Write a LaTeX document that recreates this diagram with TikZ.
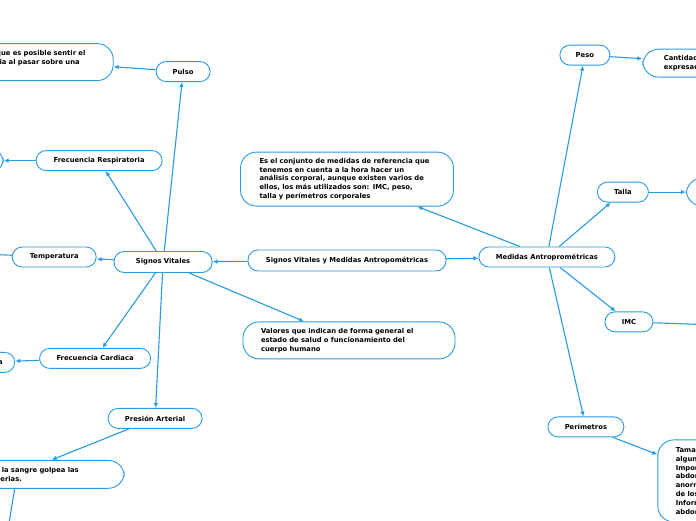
\documentclass[tikz,border=0pt]{standalone}
\usepackage{fontspec}
\setsansfont{DejaVu Sans}
\usepackage{tikz}
\usetikzlibrary{arrows.meta,positioning}
\definecolor{mapblue}{HTML}{2A9AE2}

\begin{document}
\begin{tikzpicture}[
  x=1pt, y=1pt,
  font=\fontsize{6.8}{8.8}\selectfont\sffamily\bfseries,
  topic/.style={draw=mapblue, fill=white, line width=0.9pt, rounded corners=10pt, minimum height=20pt, inner sep=0pt, align=center},
  note/.style={draw=mapblue, fill=white, line width=0.9pt, rounded corners=16pt, align=left, inner ysep=0pt, inner xsep=18pt},
  arr/.style={-{Latex[length=5pt,width=4.5pt]}, draw=mapblue, line width=1.1pt},
]
\useasboundingbox (0,0) rectangle (696,-520);
\fill[white] (0,0) rectangle (696,-520);
\clip (0,0) rectangle (696,-520);

% main topics
\node[topic, minimum width=198pt, minimum height=21pt] (central) at (347,-260.5) {Signos Vitales y Medidas Antropométricas};
\node[topic, minimum width=98pt, minimum height=21pt, left=35pt of central, yshift=-1.5pt] (sv) {Signos Vitales};
\node[topic, minimum width=136pt, right=32pt of central, yshift=3.5pt] (med) {Medidas Antroprométricas};
\node[note, text width=176pt, minimum height=37pt, below=50pt of central, xshift=2pt] (valdesc) {Valores que indican de forma general el\\estado de salud o funcionamiento del\\cuerpo humano};
\node[note, text width=175pt, inner xsep=19pt, minimum height=54pt, above=43pt of central] (medesc) {Es el conjunto de medidas de referencia que\\tenemos en cuenta a la hora hacer un\\análisis corporal, aunque existen varios de\\ellos, los más utilizados son: IMC, peso,\\talla y perímetros corporales};

% signos vitales
\node[topic, minimum width=54pt, above=169pt of sv, xshift=20pt] (pulso) {Pulso};
\node[topic, minimum width=126pt, above=80pt of sv, xshift=-64pt] (resp) {Frecuencia Respiratoria};
\node[topic, minimum width=84pt, left=17pt of sv, yshift=5pt] (temp) {Temperatura};
\node[topic, minimum width=111pt, below=75pt of sv, xshift=-68pt] (card) {Frecuencia Cardiaca};
\node[topic, minimum width=94pt, below=135pt of sv, xshift=-8pt] (pres) {Presión Arterial};

\node[note, text width=99pt, minimum height=37pt, left=42pt of pulso, yshift=9.5pt] (pulsodesc) {que es posible sentir el\\ria al pasar sobre una\\\mbox{}};
\node[note, minimum width=40pt, minimum height=27pt, left=32pt of resp] (respdesc) {};
\coordinate[left=30pt of temp, yshift=3pt] (tempend);
\node[note, text width=50pt, align=right, inner xsep=12pt, minimum height=20pt, rounded corners=10pt, left=24pt of card, yshift=-4pt] (carddesc) {a};
\node[note, text width=109pt, minimum height=28pt, below left=31pt and -17pt of pres] (presdesc) {l la sangre golpea las\\terias.};
\coordinate[below left=48pt and 45pt of presdesc.south] (presend);

% medidas
\node[topic, minimum width=50pt, above=181pt of med, xshift=38pt] (peso) {Peso};
\node[topic, minimum width=51pt, above=44pt of med, xshift=76pt] (talla) {Talla};
\node[topic, minimum width=48pt, below=44pt of med, xshift=82pt] (imc) {IMC};
\node[topic, minimum width=76pt, below=149pt of med, xshift=39pt] (perim) {Perímetros};

\node[note, text width=100pt, inner xsep=21pt, minimum height=28pt, right=32pt of peso, yshift=-8pt] (pesodesc) {Cantidad\\expresad};
\node[note, minimum width=60pt, minimum height=28pt, right=37pt of talla] (talladesc) {};
\coordinate[right=60pt of imc, yshift=-3pt] (imcend);
\node[note, text width=100pt, minimum height=82pt, right=33pt of perim, yshift=-54pt] (perimdesc) {Tama\\algun\\Impor\\abdom\\anorm\\de los\\Inform\\abdom};

% connectors
\draw[arr] (central) -- (sv);
\draw[arr] (central) -- (med);
\draw[arr] (sv) -- (valdesc);
\draw[arr] (med) -- (medesc);
\draw[arr] (sv) -- (pulso);
\draw[arr] (sv) -- (resp);
\draw[arr] (sv) -- (temp);
\draw[arr] (sv) -- (card);
\draw[arr] (sv) -- (pres);
\draw[arr] (pulso) -- (pulsodesc);
\draw[arr] (resp) -- (respdesc);
\draw[arr] (temp) -- (tempend);
\draw[arr] (card) -- (carddesc);
\draw[arr] (pres) -- (presdesc.north);
\draw[arr] ([xshift=-37pt]presdesc.south) -- (presend);
\draw[arr] (med) -- (peso);
\draw[arr] (med) -- (talla);
\draw[arr] (med) -- (imc);
\draw[arr] (med) -- (perim);
\draw[arr] (peso) -- (pesodesc);
\draw[arr] (talla) -- (talladesc);
\draw[arr] (imc) -- (imcend);
\draw[arr] (perim) -- (perimdesc);
\end{tikzpicture}
\end{document}
